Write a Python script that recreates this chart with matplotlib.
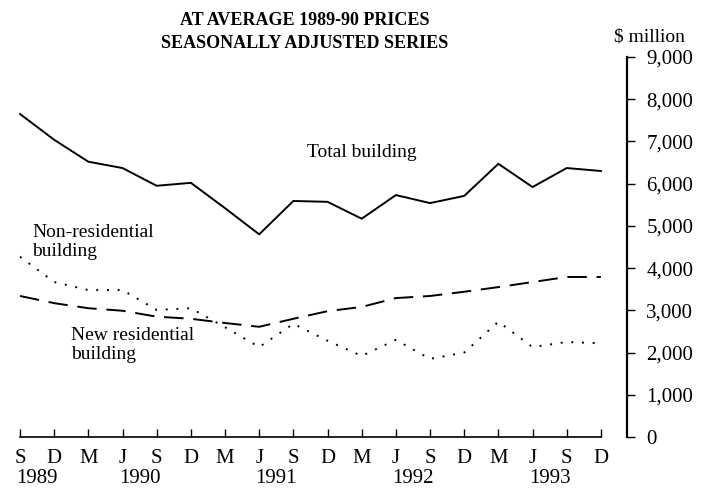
import numpy as np
import matplotlib
matplotlib.use("Agg")
import matplotlib.pyplot as plt
from matplotlib.ticker import FuncFormatter

plt.rcParams['font.family'] = ['Liberation Serif', 'DejaVu Serif']

# quarters Sep 1989 .. Dec 1993
months = ['S', 'D', 'M', 'J', 'S', 'D', 'M', 'J', 'S', 'D', 'M', 'J',
          'S', 'D', 'M', 'J', 'S', 'D']
years = ['1989', '1990', '1991', '1992', '1993']
year_pos = [0.5, 3.5, 7.5, 11.5, 15.5]

total_building = [7650, 7040, 6520, 6370, 5950, 6020, 5420, 4800, 5590,
                  5570, 5170, 5730, 5540, 5710, 6470, 5920, 6370, 6300]
new_residential = [3340, 3170, 3050, 2990, 2850, 2800, 2700, 2610, 2800,
                   2980, 3080, 3290, 3340, 3440, 3550, 3670, 3790, 3790]
non_residential = [4270, 3670, 3480, 3480, 3010, 3050, 2600, 2130, 2680,
                   2280, 1920, 2300, 1850, 2000, 2730, 2130, 2250, 2220]

x = np.arange(len(months))

fig = plt.figure(figsize=(7.16, 4.94), dpi=100)
ax = fig.add_axes([0.0265, 0.1154, 0.849, 0.7692])

ax.plot(x, total_building, color='black', lw=1.4, solid_joinstyle='round')
ax.plot(x, new_residential, color='black', lw=1.4, dashes=(10, 5))
ax.plot(x, non_residential, color='black', lw=1.4, dashes=(1, 4.5))

ax.set_xlim(-0.03, 17.76)
ax.set_ylim(0, 9000)

for s in ['left', 'top']:
    ax.spines[s].set_visible(False)
ax.spines['bottom'].set_bounds(0, 17)
ax.spines['bottom'].set_linewidth(1.2)
ax.spines['right'].set_linewidth(1.6)

ax.set_xticks(x)
ax.set_xticklabels(months)
ax.tick_params(axis='x', direction='in', length=6, width=1, labelsize=15, pad=9)

ax.yaxis.tick_right()
ax.set_yticks(np.arange(0, 9001, 1000))
ax.yaxis.set_major_formatter(FuncFormatter(lambda v, p: f'{int(v):,}'))
ax.tick_params(axis='y', direction='out', length=6, width=1, labelsize=15, pad=8)

for yr, pos in zip(years, year_pos):
    ax.text(pos, -0.11, yr, transform=ax.get_xaxis_transform(),
            ha='center', va='center', fontsize=15)

ax.text(8.4, 6750, 'Total building', fontsize=14, ha='left', va='center')
ax.text(0.35, 4620, 'Non-residential\nbuilding', fontsize=14, ha='left',
        va='center', linespacing=1.2)
ax.text(1.5, 2180, 'New residential\nbuilding', fontsize=14, ha='left',
        va='center', linespacing=1.2)

fig.text(0.425, 0.975, 'AT AVERAGE 1989-90 PRICES', fontsize=13,
         fontweight='bold', ha='center', va='top')
fig.text(0.425, 0.93, 'SEASONALLY ADJUSTED SERIES', fontsize=13,
         fontweight='bold', ha='center', va='top')
fig.text(0.858, 0.942, '$ million', fontsize=14, ha='left', va='top')

fig.savefig('out.png', dpi=100)
